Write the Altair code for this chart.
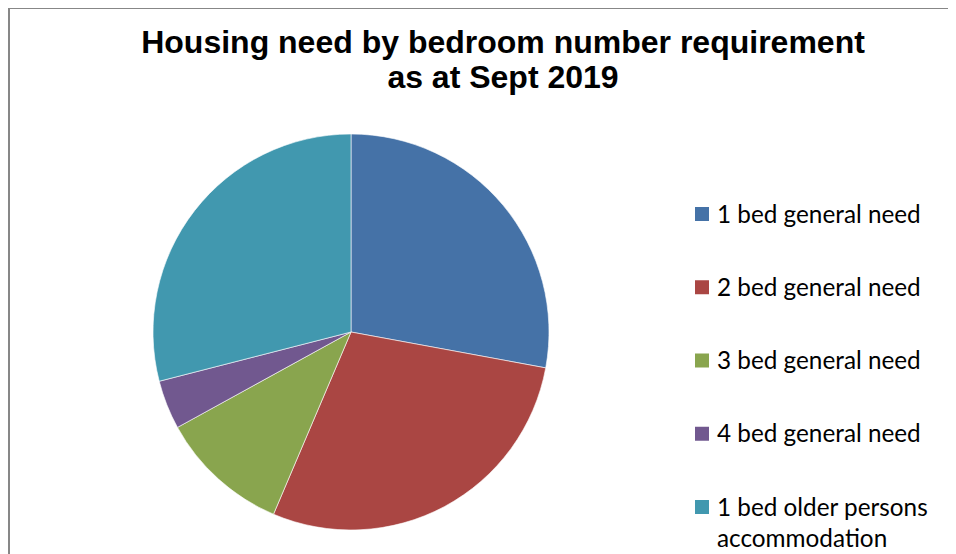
import altair as alt
import pandas as pd

categories = [
    "1 bed general need",
    "2 bed general need",
    "3 bed general need",
    "4 bed general need",
    "1 bed older persons accommodation",
]
legend_labels = [
    "1 bed general need",
    "2 bed general need",
    "3 bed general need",
    "4 bed general need",
    "1 bed older persons\naccommodation",
]
values = [279, 285, 106, 40, 290]
colors = ["#4572A7", "#AA4643", "#89A54E", "#71588F", "#4198AF"]
title_lines = ["Housing need by bedroom number requirement", "as at Sept 2019"]

df = pd.DataFrame({
    "category": categories,
    "label": legend_labels,
    "value": values,
    "order": list(range(len(categories))),
})

color = alt.Color("category:N", scale=alt.Scale(domain=categories, range=colors), legend=None)

pie = alt.Chart(df).mark_arc(radius=198, stroke="#ffffff", strokeWidth=0.6).encode(
    theta=alt.Theta("value:Q", stack=True),
    order=alt.Order("order:Q"),
    color=color,
    x=alt.value(343),
    y=alt.value(324),
)

ypos = alt.Y("category:N", sort=categories, axis=None,
             scale=alt.Scale(type="point", range=[206, 499], padding=0))

legend_sym = alt.Chart(df).mark_square(size=196, opacity=1).encode(
    x=alt.value(694),
    y=ypos,
    color=color,
)

legend_txt = alt.Chart(df).mark_text(
    align="left", baseline="alphabetic", dy=8.5, font="Lato", fontSize=24.3,
    color="#000000", lineBreak="\n", lineHeight=31,
).encode(
    x=alt.value(709),
    y=ypos,
    text="label:N",
)

title = alt.Chart(pd.DataFrame({"t": ["\n".join(title_lines)]})).mark_text(
    align="center", baseline="alphabetic", font="Liberation Sans", fontSize=32,
    fontWeight="bold", color="#000000", lineBreak="\n", lineHeight=35.6,
).encode(
    x=alt.value(495),
    y=alt.value(44.7),
    text="t:N",
)

border_left = alt.Chart(df).mark_rule(color="#878787", strokeWidth=2).encode(
    x=alt.value(1), y=alt.value(0), y2=alt.value(546)
)
border_top = alt.Chart(df).mark_rule(color="#878787", strokeWidth=2).encode(
    x=alt.value(0), x2=alt.value(940), y=alt.value(0)
)

chart = alt.layer(pie, legend_sym, legend_txt, title, border_left, border_top).properties(
    width=940, height=546, padding=0, autosize=alt.AutoSizeParams(type="none"),
).configure_view(stroke=None).resolve_scale(y="shared")

chart.save("out.html", embed_options={"renderer": "svg", "actions": False})
